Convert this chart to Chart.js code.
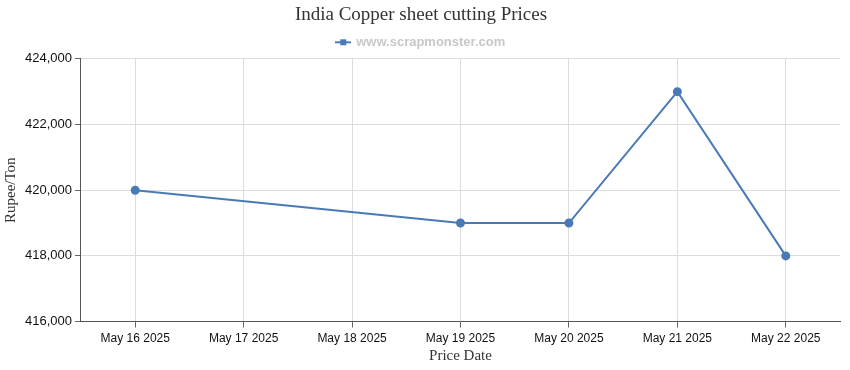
<!DOCTYPE html>
<html>
<head>
<meta charset="utf-8">
<script src="https://cdn.jsdelivr.net/npm/chart.js@4"></script>
<style>
  html, body { margin: 0; padding: 0; background: #fff; }
  #wrap { width: 850px; height: 370px; }
</style>
</head>
<body>
<div id="wrap"><canvas id="chart"></canvas></div>
<script>
const dates = ['May 16 2025', 'May 17 2025', 'May 18 2025', 'May 19 2025', 'May 20 2025', 'May 21 2025', 'May 22 2025'];
const prices = [420000, null, null, 419000, 419000, 423000, 418000];
const yTicks = [416000, 418000, 420000, 422000, 424000];

const lineColor = '#4a7ab5';

// legend marker: short line with a square in the middle
function legendMarker() {
    const c = document.createElement('canvas');
    c.width = 16;
    c.height = 8;
    const g = c.getContext('2d');
    g.fillStyle = lineColor;
    g.fillRect(0, 3, 16, 2);
    g.fillRect(5, 1, 6, 6);
    return c;
}

document.addEventListener("DOMContentLoaded", function() {
    const ctx = document.getElementById('chart');
    const marker = legendMarker();

    new Chart(ctx, {
        type: 'line',
        data: {
            labels: dates,
            datasets: [{
                label: 'www.scrapmonster.com',
                data: prices,
                borderColor: lineColor,
                backgroundColor: lineColor,
                borderWidth: 2,
                pointRadius: 3.5,
                pointHoverRadius: 5,
                spanGaps: true,
                tension: 0
            }]
        },
        options: {
            responsive: true,
            maintainAspectRatio: false,
            animation: false,
            layout: {
                padding: { left: 2, right: 10, top: 4, bottom: 8 }
            },
            plugins: {
                title: {
                    display: true,
                    text: 'India Copper sheet cutting Prices',
                    color: '#333',
                    font: { family: '"Liberation Serif", "Times New Roman", serif', size: 19, weight: 'normal' },
                    padding: { top: 0, bottom: 2 }
                },
                legend: {
                    display: true,
                    labels: {
                        color: '#c8c8c8',
                        font: { family: '"Liberation Sans", Arial, sans-serif', size: 13, weight: 'bold' },
                        usePointStyle: true,
                        boxWidth: 16,
                        boxHeight: 8,
                        padding: 7,
                        generateLabels: function(chart) {
                            return chart.data.datasets.map((ds, i) => ({
                                text: ds.label,
                                fontColor: '#c8c8c8',
                                pointStyle: marker,
                                datasetIndex: i,
                                hidden: false,
                                lineWidth: 0
                            }));
                        }
                    }
                },
                tooltip: { enabled: true }
            },
            scales: {
                x: {
                    offset: true,
                    grid: {
                        color: '#dddddd',
                        offset: false,
                        drawTicks: true,
                        tickLength: 6,
                        tickColor: '#666'
                    },
                    border: { color: '#555', width: 1 },
                    ticks: {
                        color: '#111',
                        font: { family: '"Liberation Sans", Arial, sans-serif', size: 12 },
                        maxRotation: 0,
                        autoSkip: false,
                        padding: 4
                    },
                    title: {
                        display: true,
                        text: 'Price Date',
                        color: '#333',
                        font: { family: '"Liberation Serif", "Times New Roman", serif', size: 15, lineHeight: 0.8 },
                        padding: { top: 0, bottom: 0 }
                    }
                },
                y: {
                    min: yTicks[0],
                    max: yTicks[yTicks.length - 1],
                    afterBuildTicks: function(axis) {
                        axis.ticks = yTicks.map(v => ({ value: v }));
                    },
                    grid: {
                        color: '#dddddd',
                        tickLength: 6,
                        tickColor: '#666'
                    },
                    border: { color: '#555', width: 1 },
                    ticks: {
                        color: '#111',
                        font: { family: '"Liberation Sans", Arial, sans-serif', size: 13 },
                        padding: 3,
                        callback: function(value) {
                            return value.toLocaleString('en-US');
                        }
                    },
                    title: {
                        display: true,
                        text: 'Rupee/Ton',
                        color: '#333',
                        font: { family: '"Liberation Serif", "Times New Roman", serif', size: 15 },
                        padding: { top: 0, bottom: 2 }
                    }
                }
            }
        }
    });
});
</script>
</body>
</html>
